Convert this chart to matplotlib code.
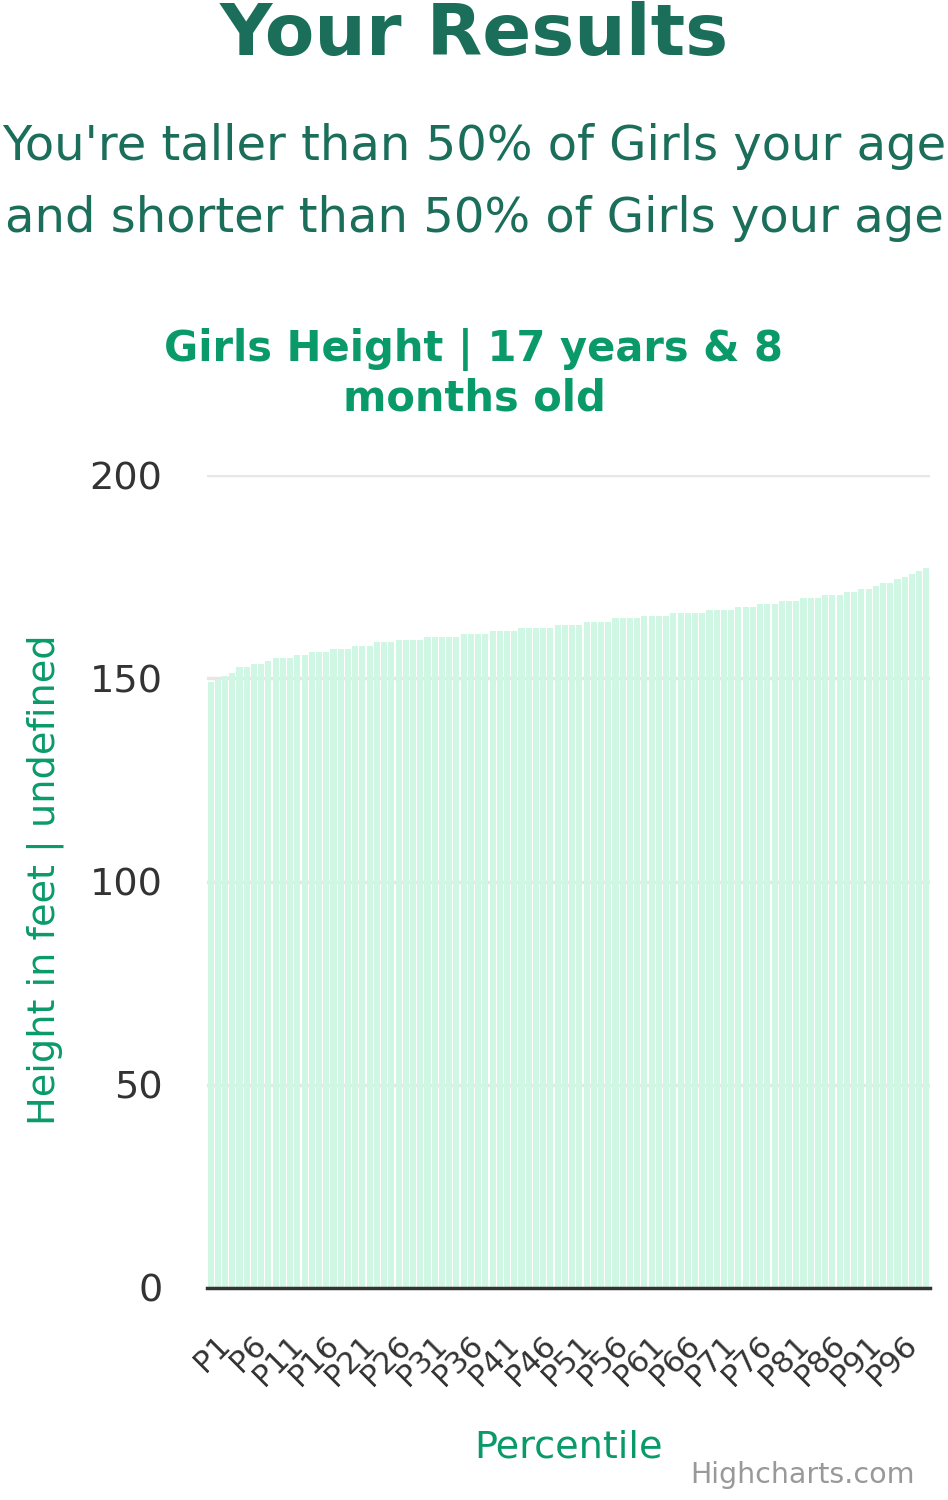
import matplotlib
matplotlib.use("Agg")
import matplotlib.pyplot as plt
import matplotlib.transforms as mtransforms

# percentile heights (cm)
categories = ["P%d" % i for i in range(1, 101)]
heights = [
    149.2, 149.9, 150.6, 151.4, 152.8, 152.8, 153.6, 153.6, 154.3, 155.1,
    155.1, 155.1, 155.8, 155.8, 156.5, 156.5, 156.5, 157.3, 157.3, 157.3,
    158.0, 158.0, 158.0, 158.8, 158.8, 158.8, 159.5, 159.5, 159.5, 159.5,
    160.2, 160.2, 160.2, 160.2, 160.2, 161.0, 161.0, 161.0, 161.0, 161.7,
    161.7, 161.7, 161.7, 162.4, 162.4, 162.4, 162.4, 162.4, 163.2, 163.2,
    163.2, 163.2, 163.9, 163.9, 163.9, 163.9, 164.7, 164.7, 164.7, 164.7,
    165.4, 165.4, 165.4, 165.4, 166.1, 166.1, 166.1, 166.1, 166.1, 166.9,
    166.9, 166.9, 166.9, 167.6, 167.6, 167.6, 168.3, 168.3, 168.3, 169.1,
    169.1, 169.1, 169.8, 169.8, 169.8, 170.6, 170.6, 170.6, 171.3, 171.3,
    172.0, 172.0, 172.8, 173.5, 173.5, 174.3, 175.0, 175.7, 176.5, 177.2,
]
yticks = [0, 50, 100, 150, 200]

dark_green = "#1a6e5a"
green = "#0a9a6a"
bar_color = "#d0f7e3"

W, H = 948, 1500
fig = plt.figure(figsize=(W / 100, H / 100), dpi=100)

fig.text(0.5, 1 - 36 / H, "Your Results", ha="center", va="center",
         fontsize=52, fontweight="bold", color=dark_green)
fig.text(0.5, 1 - 147 / H, "You're taller than 50% of Girls your age",
         ha="center", va="center", fontsize=34.6, color=dark_green)
fig.text(0.5, 1 - 218 / H, "and shorter than 50% of Girls your age",
         ha="center", va="center", fontsize=34.6, color=dark_green)
fig.text(0.5, 1 - 374 / H, "Girls Height | 17 years & 8\nmonths old",
         ha="center", va="center", fontsize=30, fontweight="bold",
         color=green, linespacing=1.2)

ax = fig.add_axes([207 / W, (H - 1288) / H, (930 - 207) / W, (1288 - 475) / H])
x = list(range(len(categories)))
ax.bar(x, heights, width=0.84, color=bar_color, zorder=2)
ax.set_xlim(-0.5, len(categories) - 0.5)
ax.set_ylim(0, 200)

ax.set_yticks(yticks)
ax.set_yticklabels([str(v) for v in yticks], fontsize=27.5, color="#333333")
ax.yaxis.grid(True, color="#e6e6e6", linewidth=2.5, zorder=0)
ax.tick_params(axis="y", length=0, pad=32)

ax.set_xticks(x[::5])
ax.set_xticklabels(categories[::5], rotation=45, ha="right", va="center",
                   rotation_mode="anchor", fontsize=22, color="#333333")
ax.tick_params(axis="x", length=0, pad=38)
shift = mtransforms.ScaledTranslation(15 / 100, 0, fig.dpi_scale_trans)
for lbl in ax.get_xticklabels():
    lbl.set_transform(lbl.get_transform() + shift)

for side in ["top", "right", "left"]:
    ax.spines[side].set_visible(False)
ax.spines["bottom"].set_color("#333333")
ax.spines["bottom"].set_linewidth(2.5)
ax.spines["bottom"].set_zorder(3)
ax.set_axisbelow(True)

fig.text(45 / W, 1 - 880 / H, "Height in feet | undefined", rotation=90,
         ha="center", va="center", fontsize=27.5, color=green)
fig.text(568 / W, 1 - 1447 / H, "Percentile", ha="center", va="center",
         fontsize=27.5, color=green)
fig.text(915 / W, 1 - 1475 / H, "Highcharts.com", ha="right", va="center",
         fontsize=20.5, color="#999999")

fig.savefig("out.png", dpi=100)
